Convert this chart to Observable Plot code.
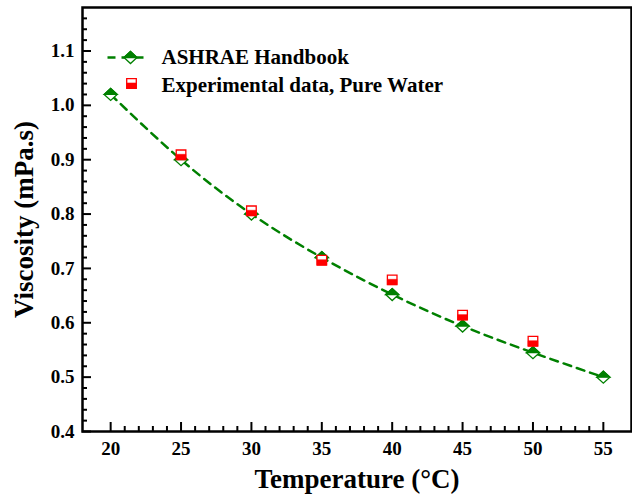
<!DOCTYPE html>
<html>
<head>
<meta charset="utf-8">
<script src="https://cdn.jsdelivr.net/npm/d3@7"></script>
<script src="https://cdn.jsdelivr.net/npm/@observablehq/plot@0.6"></script>
<style>
  html, body { margin: 0; padding: 0; background: #fff; }
  #chart { width: 632px; height: 494px; }
</style>
</head>
<body>
<div id="chart"></div>
<script>
// ---- data ----
const temps = [20, 25, 30, 35, 40, 45, 50, 55];
const ashrae = [1.02, 0.90, 0.80, 0.72, 0.652, 0.594, 0.545, 0.50];
const expTemps = [25, 30, 35, 40, 45, 50];
const expVals = [0.909, 0.806, 0.715, 0.679, 0.614, 0.566];
const xMajor = [20, 25, 30, 35, 40, 45, 50, 55];
const xMinor = d3.range(20, 56, 1).filter(v => v % 5 !== 0);
const yMajor = [0.4, 0.5, 0.6, 0.7, 0.8, 0.9, 1.0, 1.1];
const yMinor = d3.range(0, 39).map(i => +(0.4 + i * 0.02).toFixed(2)).filter(v => Math.round(v * 100) % 10 !== 0);
const seriesNames = ["ASHRAE Handbook", "Experimental data, Pure Water"];
const xTitle = "Temperature (°C)";
const yTitle = "Viscosity (mPa.s)";

const ashraeData = temps.map((t, i) => ({t, v: ashrae[i]}));
const expData = expTemps.map((t, i) => ({t, v: expVals[i]}));

// ---- layout ----
const W = 632, H = 494;
const mL = 82, mR = 1, mT = 7, mB = 63;
const innerW = W - mL - mR, innerH = H - mT - mB;
const GREEN = "#008000", RED = "#ff0000";
const FONT = "'Liberation Serif', 'Times New Roman', serif";

// custom symbols
const diamondFull = {draw(ctx, size) { const r = Math.sqrt(size / Math.PI); const w = r * 1.3, h = r * 1.2;
  ctx.moveTo(0, -h); ctx.lineTo(w, 0); ctx.lineTo(0, h); ctx.lineTo(-w, 0); ctx.closePath(); }};
const diamondTop = {draw(ctx, size) { const r = Math.sqrt(size / Math.PI); const w = r * 1.3, h = r * 1.2;
  ctx.moveTo(-w, 0); ctx.lineTo(0, -h); ctx.lineTo(w, 0); ctx.closePath(); }};
const squareFull = {draw(ctx, size) { const r = Math.sqrt(size / Math.PI);
  ctx.rect(-r, -r, 2 * r, 2 * r); }};
const squareBottom = {draw(ctx, size) { const r = Math.sqrt(size / Math.PI);
  ctx.rect(-r, -r * 0.1, 2 * r, r * 1.1); }};
const legendLine = {draw(ctx, size) { ctx.moveTo(-23, 0); ctx.lineTo(17, 0); }};

function diamondMarks(data, opts = {}) {
  return [
    Plot.dot(data, {...opts, symbol: diamondFull, r: 5, fill: "white", stroke: GREEN, strokeWidth: 1.3}),
    Plot.dot(data, {...opts, symbol: diamondTop, r: 5, fill: GREEN, stroke: GREEN, strokeWidth: 1.3})
  ];
}
function squareMarks(data, opts = {}) {
  return [
    Plot.dot(data, {...opts, symbol: squareFull, r: 4.8, fill: "white", stroke: RED, strokeWidth: 1.3}),
    Plot.dot(data, {...opts, symbol: squareBottom, r: 4.8, fill: RED, stroke: RED, strokeWidth: 0.6})
  ];
}

const chart = Plot.plot({
  width: W, height: H,
  marginLeft: mL, marginRight: mR, marginTop: mT, marginBottom: mB,
  style: {fontFamily: FONT, background: "white", color: "black"},
  x: {domain: [18, 57]},
  y: {domain: [0.4, 1.18]},
  marks: [
    // axis tick labels
    Plot.axisX({ticks: xMajor, tickSize: 0, tickPadding: 10, fontSize: 19, fontWeight: "bold", label: null, tickFormat: d3.format("d")}),
    Plot.axisY({ticks: yMajor, tickSize: 0, tickPadding: 8, fontSize: 19, fontWeight: "bold", label: null, tickFormat: d3.format(".1f")}),
    // inward ticks
    Plot.tickX(xMajor, {x: d => d, insetTop: innerH - 9, stroke: "black", strokeWidth: 2}),
    Plot.tickX(xMinor, {x: d => d, insetTop: innerH - 5, stroke: "black", strokeWidth: 2}),
    Plot.tickY(yMajor, {y: d => d, insetRight: innerW - 9, stroke: "black", strokeWidth: 2}),
    Plot.tickY(yMinor, {y: d => d, insetRight: innerW - 5, stroke: "black", strokeWidth: 2}),
    // axis titles
    Plot.text([xTitle], {frameAnchor: "bottom", dy: 48, text: d => d, fontSize: 27, fontWeight: "bold", textAnchor: "middle", lineAnchor: "middle", fill: "black"}),
    Plot.text([yTitle], {frameAnchor: "left", dx: -58, rotate: -90, text: d => d, fontSize: 27, fontWeight: "bold", textAnchor: "middle", lineAnchor: "middle", fill: "black"}),
    // data
    Plot.line(ashraeData, {x: "t", y: "v", curve: "natural", stroke: GREEN, strokeWidth: 2.5, strokeDasharray: "8,6"}),
    ...diamondMarks(ashraeData, {x: "t", y: "v"}),
    ...squareMarks(expData, {x: "t", y: "v"}),
    // legend
    Plot.dot([0], {frameAnchor: "top-left", dx: 48, dy: 50, symbol: legendLine, r: 5, fill: "none", stroke: GREEN, strokeWidth: 2.5, strokeDasharray: "8,6"}),
    ...diamondMarks([0], {frameAnchor: "top-left", dx: 48, dy: 50}),
    ...squareMarks([0], {frameAnchor: "top-left", dx: 49, dy: 76}),
    Plot.text([seriesNames[0]], {frameAnchor: "top-left", dx: 79, dy: 50, text: d => d, fontSize: 21, fontWeight: "bold", textAnchor: "start", lineAnchor: "middle", fill: "black"}),
    Plot.text([seriesNames[1]], {frameAnchor: "top-left", dx: 79, dy: 78, text: d => d, fontSize: 21, fontWeight: "bold", textAnchor: "start", lineAnchor: "middle", fill: "black"}),
    Plot.frame({stroke: "black", strokeWidth: 2.5})
  ]
});
document.getElementById("chart").appendChild(chart);
</script>
</body>
</html>
